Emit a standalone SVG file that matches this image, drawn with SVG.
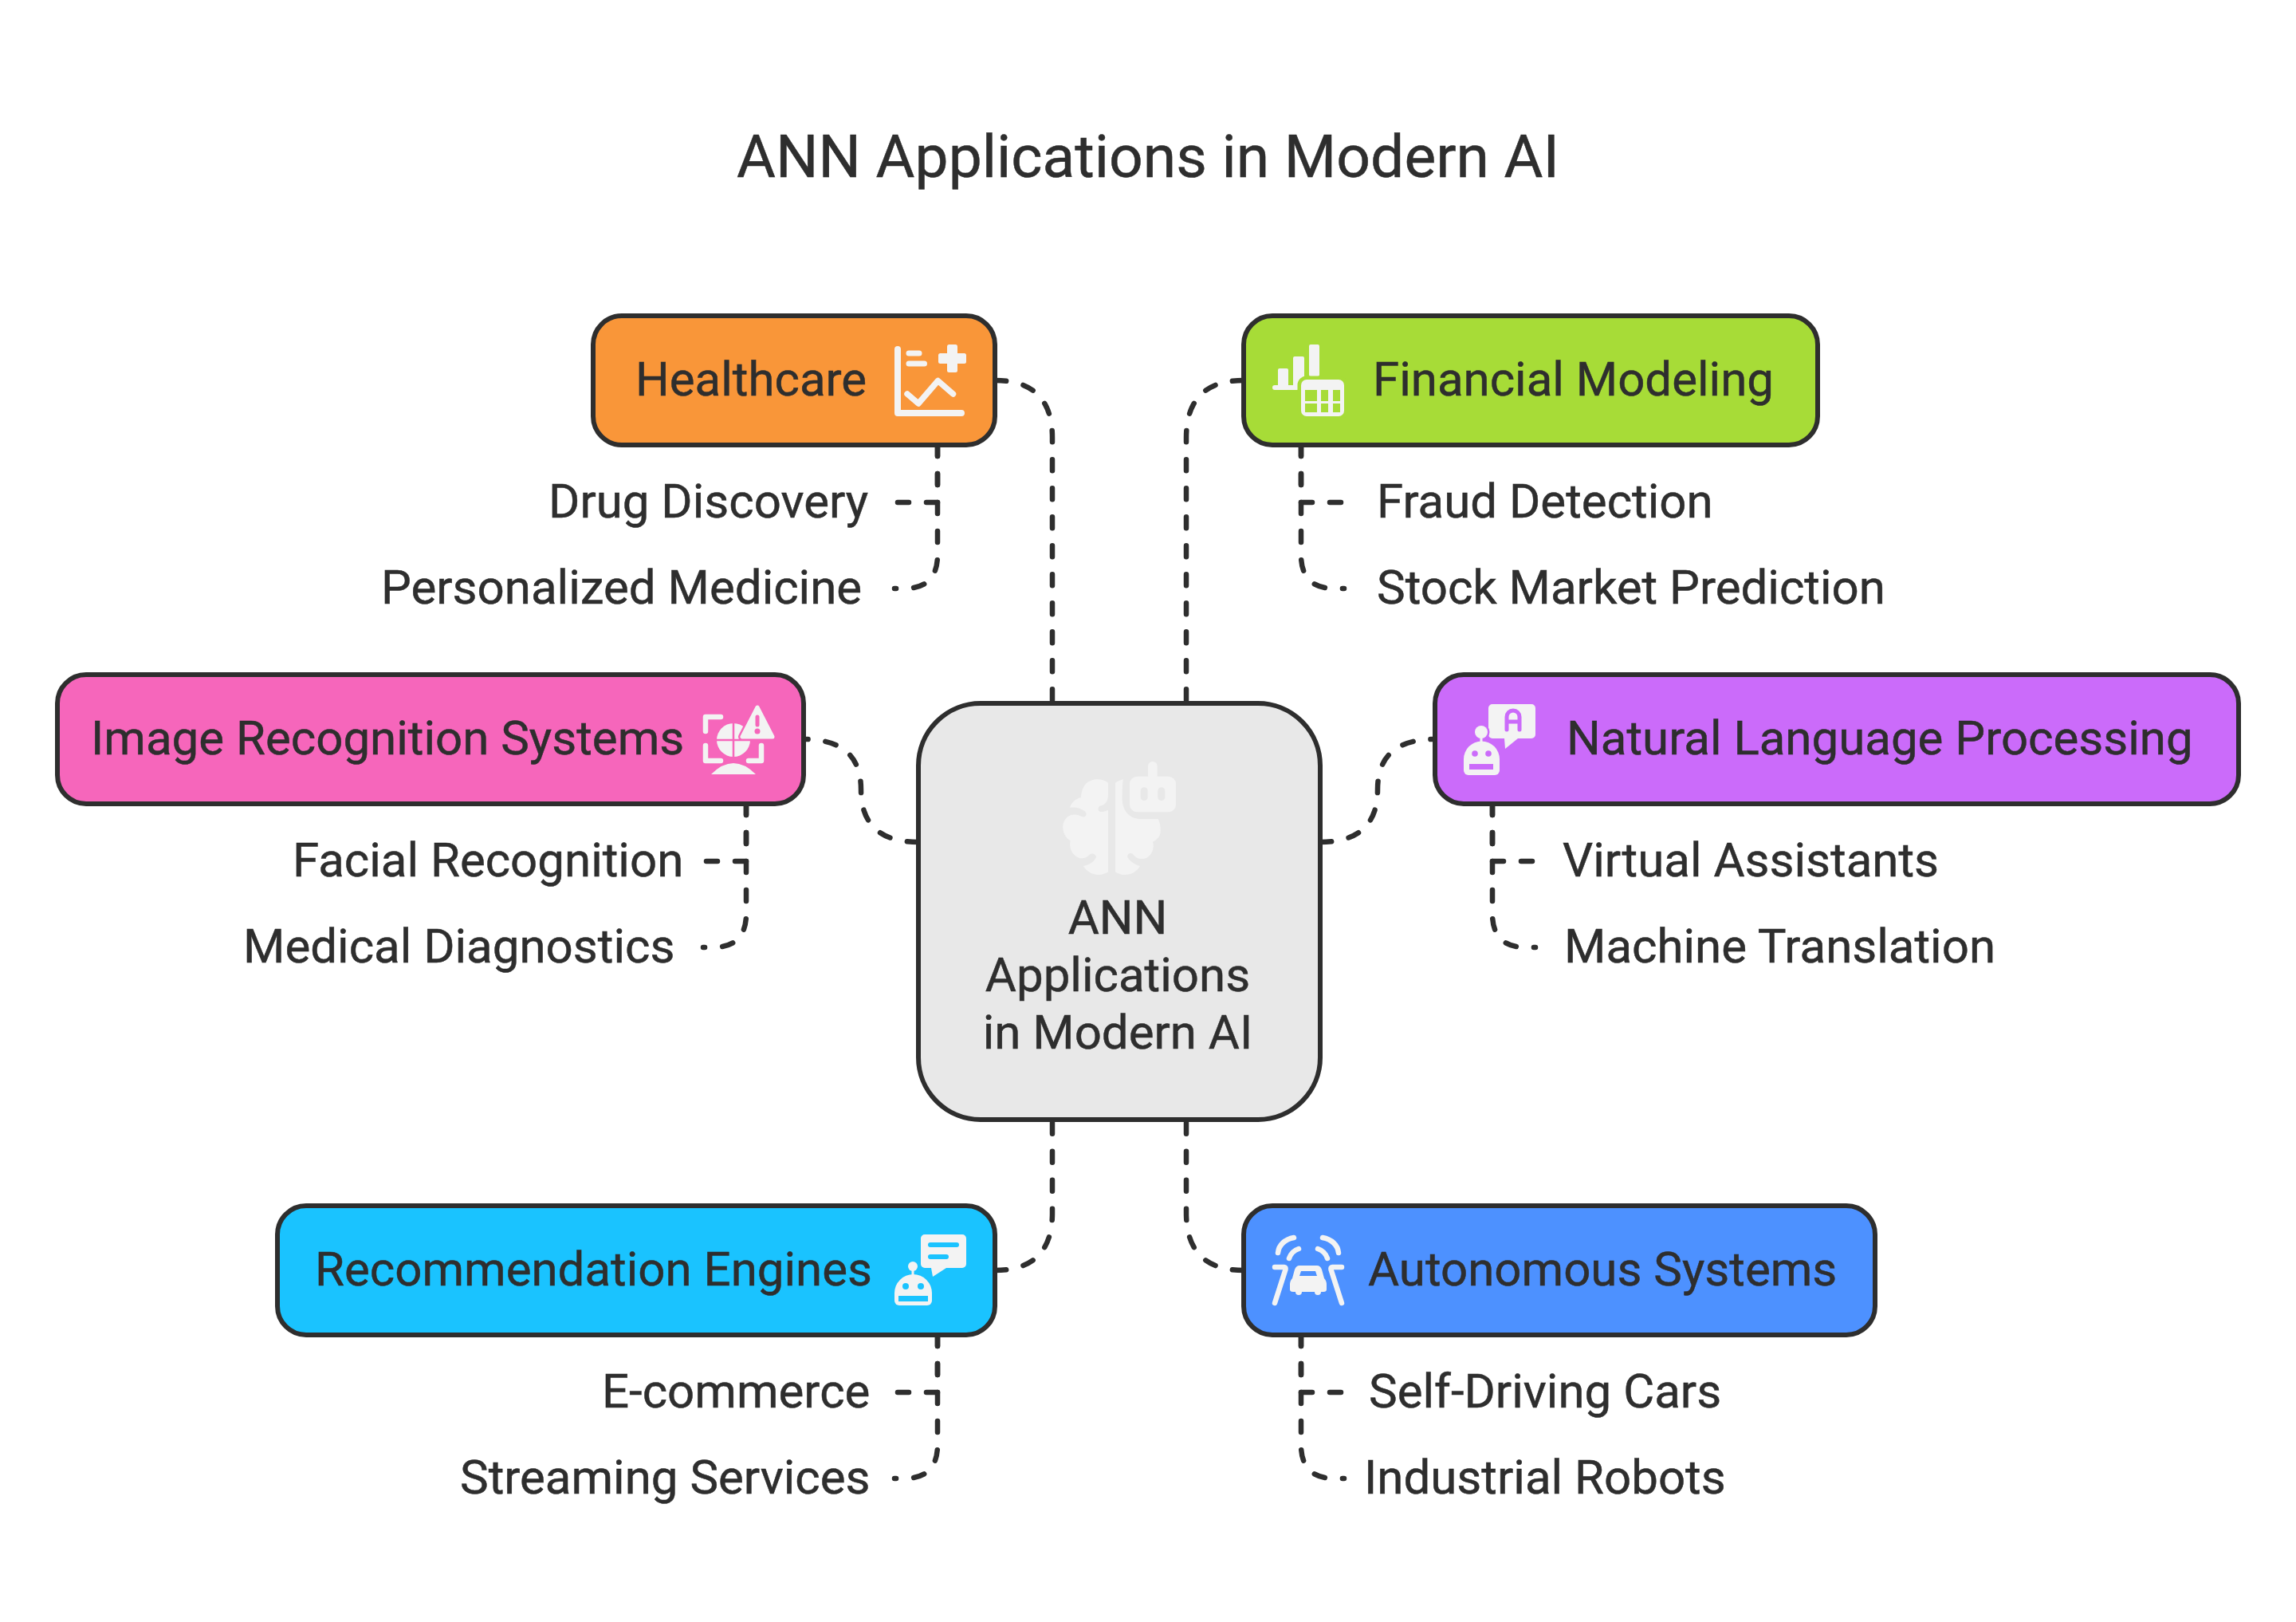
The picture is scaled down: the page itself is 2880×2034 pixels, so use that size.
<svg xmlns="http://www.w3.org/2000/svg" width="2880" height="2034" viewBox="0 0 2880 2034">
<style>
text{font-family:Roboto,"Liberation Sans",sans-serif;fill:#2e2e2e;stroke:#2e2e2e;stroke-width:.5}
.t{font-size:60px}
.title{font-size:75px}
.box{stroke:#2e2e2e;stroke-width:6}
.c{fill:none;stroke:#2e2e2e;stroke-width:6.5;stroke-linecap:round;stroke-linejoin:round;stroke-dasharray:14 22}
.f{fill:#f3f3f3}
.s{fill:none;stroke:#f3f3f3;stroke-width:6.500;stroke-linecap:round;stroke-linejoin:round}
</style>
<rect width="2880" height="2034" fill="#fff"/>
<text class="title" x="1440" y="222" text-anchor="middle">ANN Applications in Modern AI</text>
<g id="connectors">
<path class="c" d="M1248 477Q1320 477 1320 549V882"/>
<path class="c" d="M1560 477Q1488 477 1488 549V882"/>
<path class="c" d="M1152 1056Q1080 1056 1080 990Q1080 927 1008 927"/>
<path class="c" d="M1656 1056Q1728 1056 1728 990Q1728 927 1800 927"/>
<path class="c" d="M1248 1593Q1320 1593 1320 1521V1404"/>
<path class="c" d="M1560 1593Q1488 1593 1488 1521V1404"/>
<path class="c" d="M1176 558V630H1122"/>
<path class="c" d="M1176 558V696Q1176 738 1134 738H1122"/>
<path class="c" d="M1632 558V630H1686"/>
<path class="c" d="M1632 558V696Q1632 738 1674 738H1686"/>
<path class="c" d="M936 1008V1080H882"/>
<path class="c" d="M936 1008V1146Q936 1188 894 1188H882"/>
<path class="c" d="M1872 1008V1080H1926"/>
<path class="c" d="M1872 1008V1146Q1872 1188 1914 1188H1926"/>
<path class="c" d="M1176 1674V1746H1122"/>
<path class="c" d="M1176 1674V1812Q1176 1854 1134 1854H1122"/>
<path class="c" d="M1632 1674V1746H1686"/>
<path class="c" d="M1632 1674V1812Q1632 1854 1674 1854H1686"/>
</g>
<g id="center">
<rect class="box" x="1152" y="882" width="504" height="522" rx="78" fill="#e8e8e8"/>
<g transform="translate(1260 880) scale(.33333)" class="f">
<path d="M390 305C370 288 330 285 305 310C293 325 288 345 288 360C268 365 252 378 246 398C265 395 290 400 305 415C312 425 305 435 293 433C280 425 265 422 250 426C228 435 218 455 220 478C222 497 232 513 248 523C243 545 250 565 265 578C283 594 305 592 320 575C330 567 345 575 345 585C335 605 315 615 296 618C310 640 335 652 355 651C368 651 380 646 390 640V407C380 412 370 415 360 414C350 410 350 395 362 391C378 388 390 375 390 350Z"/>
<path d="M417 305C425 300 435 295 447 292C445 300 443 320 443 370C445 410 470 440 510 441H578C588 460 590 490 583 505C578 515 568 522 558 527C565 550 555 575 535 587C515 595 495 590 485 575C475 565 460 572 463 585C472 600 490 612 510 618C497 640 475 652 450 651C437 651 425 646 417 640Z"/>
<rect x="471" y="281" width="174" height="134" rx="28"/>
<rect x="540" y="225" width="35" height="70" rx="17"/>
<rect x="512" y="322" width="27" height="50" rx="13" fill="#e8e8e8"/>
<rect x="577" y="322" width="27" height="50" rx="13" fill="#e8e8e8"/>
</g>
<text class="t" x="1402" y="1171" text-anchor="middle">ANN</text>
<text class="t" x="1402" y="1243" text-anchor="middle">Applications</text>
<text class="t" x="1402" y="1315" text-anchor="middle">in Modern AI</text>
</g>
<g id="healthcare">
<rect class="box" x="744" y="396" width="504" height="162" rx="36" fill="#f99639"/>
<text class="t" x="797" y="496">Healthcare</text>
<g transform="translate(1122 432)">
<path class="s" style="stroke-width:8" d="M4 6V86H84"/><path class="s" style="stroke-width:7" d="M18 11H31M18 24H37.500"/>
<rect class="f" x="66" y="0" width="13" height="35" rx="2.500"/><rect class="f" x="55" y="11" width="35" height="13" rx="2.500"/>
<path class="s" style="stroke-width:7.500" d="M16 62L30 74L54.500 45.500L73.500 62"/>
</g>
<text class="t" x="688" y="649">Drug Discovery</text>
<text class="t" x="478" y="757">Personalized Medicine</text>
</g>
<g id="financial">
<rect class="box" x="1560" y="396" width="720" height="162" rx="36" fill="#a7dc37"/>
<text class="t" x="1722" y="496">Financial Modeling</text>
<g transform="translate(1596 432)">
<rect class="f" x="7" y="30" width="13" height="24" rx="2"/><rect class="f" x="26" y="15" width="14" height="39" rx="2"/><rect class="f" x="46" y="0" width="13" height="40" rx="2"/>
<rect class="f" x="0" y="51" width="34" height="6" rx="3"/>
<rect x="36" y="44" width="54" height="46" rx="7" fill="#f3f3f3" stroke="#a7dc37" stroke-width="9" paint-order="stroke"/>
<path fill="#a7dc37" d="M41 57h15v14h-15zM61 57h9v14h-9zM76 57h9v14h-9zM41 74h15v11h-15zM61 74h9v11h-9zM76 74h9v11h-9z"/>
</g>
<text class="t" x="1727" y="649">Fraud Detection</text>
<text class="t" x="1727" y="757">Stock Market Prediction</text>
</g>
<g id="image-recognition">
<rect class="box" x="72" y="846" width="936" height="162" rx="36" fill="#f666bb"/>
<text class="t" x="114" y="946">Image Recognition Systems</text>
<g transform="translate(882 883)">
<path class="s" d="M22 16H3V34M3 52V71H22M73 52V71H57"/>
<circle class="f" cx="38" cy="45" r="21"/>
<path stroke="#f666bb" stroke-width="2.500" d="M38 22V68M15 45H62"/>
<path d="M68 4L49 41H87Z" fill="#f3f3f3" stroke="#f666bb" stroke-width="10" stroke-linejoin="round"/>
<path d="M68 4L49 41H87Z" fill="#f3f3f3" stroke="#f3f3f3" stroke-width="5" stroke-linejoin="round"/>
<path d="M68 16V26" stroke="#f666bb" stroke-width="5" stroke-linecap="round"/><circle cx="68" cy="34" r="3.500" fill="#f666bb"/>
<path class="f" d="M10 88Q38 60 66 88Z"/>
</g>
<text class="t" x="367" y="1099">Facial Recognition</text>
<text class="t" x="305" y="1207">Medical Diagnostics</text>
</g>
<g id="nlp">
<rect class="box" x="1800" y="846" width="1008" height="162" rx="36" fill="#cb6bfa"/>
<text class="t" x="1965" y="946">Natural Language Processing</text>
<g transform="translate(1836 882)">
<path class="f" d="M36 1H85a5 5 0 0 1 5 5V39a5 5 0 0 1-5 5H68L52 57L51 44H36a5 5 0 0 1-5-5V6a5 5 0 0 1 5-5Z"/>
<path d="M54 33V17A8 8 0 0 1 70 17V33M54 23H70" fill="none" stroke="#cb6bfa" stroke-width="5" stroke-linecap="round"/>
<circle cx="22" cy="36" r="8" fill="#f3f3f3" stroke="#cb6bfa" stroke-width="5" paint-order="stroke"/>
<rect class="f" x="20.500" y="42" width="3" height="8"/>
<path class="f" d="M0 70A22.500 22.500 0 0 1 45 70V84a6 6 0 0 1-6 6H6a6 6 0 0 1-6-6Z"/>
<circle cx="14" cy="63" r="3.800" fill="#cb6bfa"/><circle cx="31" cy="63" r="3.800" fill="#cb6bfa"/>
<rect x="7" y="76" width="30" height="7" fill="#cb6bfa"/>
</g>
<text class="t" x="1960" y="1099">Virtual Assistants</text>
<text class="t" x="1962" y="1207">Machine Translation</text>
</g>
<g id="recommendation">
<rect class="box" x="348" y="1512" width="900" height="162" rx="36" fill="#1ac3ff"/>
<text class="t" x="395" y="1612">Recommendation Engines</text>
<g transform="translate(1122 1548)">
<path class="f" d="M38 0H85a5 5 0 0 1 5 5V37a5 5 0 0 1-5 5H65L48 53L46 42H38a5 5 0 0 1-5-5V5a5 5 0 0 1 5-5Z"/>
<path d="M45 13H78M45 28H65" stroke="#1ac3ff" stroke-width="6" stroke-linecap="round"/>
<circle class="f" cx="23" cy="40" r="6"/><rect class="f" x="21.500" y="42" width="3" height="9"/>
<path class="f" d="M0 73.500A23.500 23.500 0 0 1 47 73.500V83a6 6 0 0 1-6 6H6a6 6 0 0 1-6-6Z"/>
<circle cx="14" cy="65" r="4" fill="#1ac3ff"/><circle cx="33" cy="65" r="4" fill="#1ac3ff"/>
<rect x="5" y="77" width="37" height="7" fill="#1ac3ff"/>
</g>
<text class="t" x="755" y="1765">E-commerce</text>
<text class="t" x="577" y="1873">Streaming Services</text>
</g>
<g id="autonomous">
<rect class="box" x="1560" y="1512" width="792" height="162" rx="36" fill="#4d91ff"/>
<text class="t" x="1716" y="1612">Autonomous Systems</text>
<g transform="translate(1596 1549)">
<path class="s" d="M7 22C8 12 16 5 27 3M83 22C82 12 74 5 63 3M21 29C23 23 27 19 33 17M69 29C67 23 63 19 57 17"/>
<path class="s" d="M3 40H15Q17 40 16.500 43L3 85M87 40H75Q73 40 73.500 43L87 85"/>
<path class="f" d="M34 38H56Q60 38 62 43L65 54Q68 57 68 62V68Q68 71 64 71H26Q22 71 22 68V62Q22 57 25 54L28 43Q30 38 34 38Z"/>
<circle class="f" cx="33" cy="71" r="4"/><circle class="f" cx="57" cy="71" r="4"/>
<path fill="#4d91ff" d="M36 45H54L56 51H34Z"/>
</g>
<text class="t" x="1717" y="1765">Self-Driving Cars</text>
<text class="t" x="1711" y="1873">Industrial Robots</text>
</g>
</svg>
